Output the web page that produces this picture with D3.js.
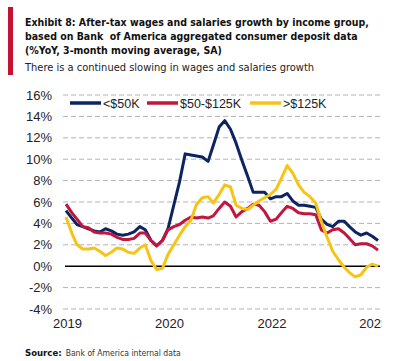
<!DOCTYPE html>
<html>
<head>
<meta charset="utf-8">
<script src="https://cdn.jsdelivr.net/npm/d3@7"></script>
<style>
  body { margin: 0; background: #fff; }
  svg { display: block; }
</style>
</head>
<body>
<div id="chart"></div>
<script>
// monthly, Jan 2019 .. Aug 2023
const startMonth = new Date(2019, 0, 1);
const under50 = [5.2, 4.5, 3.9, 3.7, 3.5, 3.3, 3.2, 3.5, 3.3, 3.0, 2.9, 3.0,
    3.2, 3.7, 3.4, 2.4, 1.9, 2.4, 3.5, 5.7, 7.9, 10.5, 10.4, 10.3,
    10.2, 9.8, 11.3, 13.0, 13.6, 12.8, 11.5, 9.9, 8.4, 6.9, 6.9, 6.9,
    6.3, 6.5, 6.5, 6.8, 6.1, 5.7, 5.7, 5.6, 5.5, 4.4, 3.9, 3.7,
    4.2, 4.2, 3.7, 3.2, 2.9, 3.1, 2.8, 2.4];
const mid50to125 = [5.8, 5.0, 4.4, 3.7, 3.6, 3.2, 3.1, 3.1, 3.0, 2.7, 2.5, 2.5,
    2.6, 3.1, 3.1, 2.4, 1.9, 2.4, 3.4, 3.7, 3.9, 4.3, 4.6, 4.5,
    4.6, 4.5, 4.7, 5.4, 6.0, 5.6, 4.6, 5.1, 5.4, 5.8, 5.7, 5.1,
    4.2, 4.4, 5.0, 5.6, 5.4, 5.0, 4.9, 4.9, 4.8, 3.4, 3.1, 3.4,
    3.5, 3.1, 2.6, 2.0, 2.1, 2.1, 1.9, 1.5];
const over125 = [4.6, 3.1, 2.0, 1.6, 1.6, 1.7, 1.4, 1.0, 1.3, 1.7, 1.6, 1.3,
    1.2, 1.7, 2.0, 0.5, -0.3, -0.2, 1.1, 2.0, 2.9, 3.7, 4.3, 5.8,
    6.4, 6.5, 5.9, 6.7, 7.6, 7.4, 5.7, 5.4, 5.3, 5.7, 6.1, 6.4,
    6.7, 7.2, 8.2, 9.4, 8.7, 7.6, 6.9, 6.5, 5.9, 4.2, 2.7, 1.4,
    0.6, -0.1, -0.6, -1.0, -0.8, -0.1, 0.2, 0.0];
const seriesNames = ["<$50K", "$50-$125K", ">$125K"];
const seriesColors = ["#0c2461", "#c1163f", "#f7c414"];
const yTicks = [-4, -2, 0, 2, 4, 6, 8, 10, 12, 14, 16];
// axis labels every 18 months
const xTicks = [new Date(2019, 0, 1), new Date(2020, 6, 1), new Date(2022, 0, 1), new Date(2023, 6, 1)];

const width = 400, height = 361;
const svg = d3.select("#chart").append("svg")
    .attr("width", width)
    .attr("height", height);

const titleFont = "'Liberation Sans Narrow', 'DejaVu Sans Condensed', Arial, sans-serif";
const bodyFont = "'Liberation Sans', Arial, sans-serif";

// shrink or grow a text's font size so it spans the wanted width
function fitText(sel, w) {
    const fs = +sel.attr("font-size");
    const len = sel.node().getComputedTextLength();
    if (len > 0) sel.attr("font-size", (fs * w / len).toFixed(2));
    return sel;
}

// red marker bar
svg.append("rect")
    .attr("x", 8).attr("y", 7)
    .attr("width", 5).attr("height", 68)
    .attr("fill", "#c41230");

const titleLines = [
    "Exhibit 8: After-tax wages and salaries growth by income group,",
    "based on Bank  of America aggregated consumer deposit data",
    "(%YoY, 3-month moving average, SA)"
];
const first = fitText(svg.append("text")
    .attr("x", 25).attr("y", 26)
    .attr("font-family", titleFont)
    .attr("font-weight", "bold")
    .attr("font-size", 14)
    .attr("fill", "#111")
    .style("white-space", "pre")
    .text(titleLines[0]), 344);
const titleSize = first.attr("font-size");
titleLines.slice(1).forEach((l, i) => {
    svg.append("text")
        .attr("x", 25).attr("y", 40 + i * 14)
        .attr("font-family", titleFont)
        .attr("font-weight", "bold")
        .attr("font-size", titleSize)
        .attr("fill", "#111")
        .style("white-space", "pre")
        .text(l);
});
fitText(svg.append("text")
    .attr("x", 25).attr("y", 70.5)
    .attr("font-family", titleFont)
    .attr("font-size", 13.5)
    .attr("fill", "#222")
    .text("There is a continued slowing in wages and salaries growth"), 289);

const dates = under50.map((d, i) => d3.timeMonth.offset(startMonth, i));

const x = d3.scaleTime()
    .domain([startMonth, dates[dates.length - 1]])
    .range([66, 378]);
const y = d3.scaleLinear()
    .domain([-4, 16])
    .range([309, 95]);

// gridlines
svg.append("g")
    .selectAll("line")
    .data(yTicks.filter(t => t !== 0))
    .enter()
    .append("line")
    .attr("x1", 63).attr("x2", 382)
    .attr("y1", d => y(d)).attr("y2", d => y(d))
    .attr("stroke", "#b3b3b3")
    .attr("stroke-width", 1)
    .attr("stroke-dasharray", "5,3");

// y axis labels
const yAxis = d3.axisLeft(y)
    .tickValues(yTicks)
    .tickFormat(d => d + "%")
    .tickSize(0)
    .tickPadding(0);
svg.append("g")
    .attr("transform", "translate(52,0)")
    .call(yAxis)
    .call(g => g.select(".domain").remove())
    .call(g => g.selectAll("text")
        .attr("font-family", bodyFont)
        .attr("font-size", 13)
        .attr("fill", "#222"));

// zero line
svg.append("line")
    .attr("x1", 65).attr("x2", 380)
    .attr("y1", y(0)).attr("y2", y(0))
    .attr("stroke", "#000")
    .attr("stroke-width", 1.5);

// x axis labels, last one clipped like the source
svg.append("clipPath").attr("id", "xclip")
    .append("rect").attr("x", 0).attr("y", -5).attr("width", 381).attr("height", 30);
const xAxis = d3.axisBottom(x)
    .tickValues(xTicks)
    .tickFormat(d3.timeFormat("%Y"))
    .tickSize(0)
    .tickPadding(0);
svg.append("g")
    .attr("transform", "translate(1,319)")
    .attr("clip-path", "url(#xclip)")
    .call(xAxis)
    .call(g => g.select(".domain").remove())
    .call(g => g.selectAll("text")
        .attr("font-family", bodyFont)
        .attr("font-size", 13)
        .attr("fill", "#222"));

const line = d3.line()
    .x((d, i) => x(dates[i]))
    .y(d => y(d));
[under50, mid50to125, over125].forEach((s, k) => {
    svg.append("path")
        .datum(s)
        .attr("d", line)
        .attr("fill", "none")
        .attr("stroke", seriesColors[k])
        .attr("stroke-width", 3)
        .attr("stroke-linejoin", "round");
});

// legend
const legendX = [70, 147, 250];
seriesNames.forEach((n, k) => {
    const g = svg.append("g").attr("transform", "translate(" + legendX[k] + ",103)");
    g.append("line")
        .attr("x1", 0).attr("x2", 31)
        .attr("stroke", seriesColors[k])
        .attr("stroke-width", 3.5);
    g.append("text")
        .attr("x", 33).attr("y", 4.5)
        .attr("font-family", bodyFont)
        .attr("font-size", 12.5)
        .attr("fill", "#222")
        .text(n);
});

// source
const src = svg.append("text")
    .attr("x", 25).attr("y", 356)
    .attr("font-family", titleFont)
    .attr("font-weight", "bold")
    .attr("font-size", 9.5)
    .attr("fill", "#111")
    .text("Source:");
fitText(svg.append("text")
    .attr("x", 25 + src.node().getComputedTextLength() + 4).attr("y", 356)
    .attr("font-family", titleFont)
    .attr("font-size", 10)
    .attr("fill", "#333")
    .text("Bank of America internal data"), 115);
</script>
</body>
</html>
